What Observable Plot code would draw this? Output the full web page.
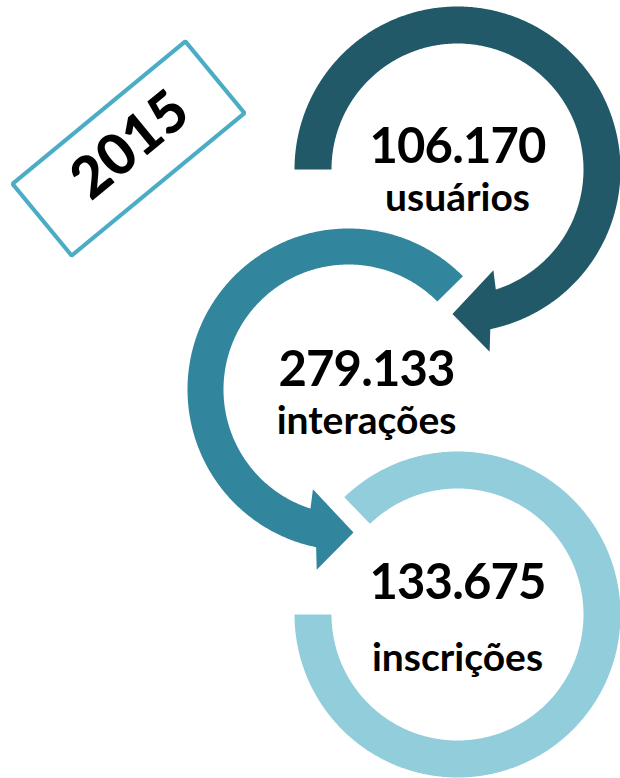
<!DOCTYPE html>
<html><head><meta charset="utf-8">
<script src="https://cdn.jsdelivr.net/npm/d3@7"></script>
<script src="https://cdn.jsdelivr.net/npm/@observablehq/plot@0.6"></script>
<style>html,body{margin:0;padding:0;background:#fff;overflow:hidden}</style>
</head><body><div id="chart"></div>
<script>
// ---- data ----
const years = ["2015"];
const metricValues = [106170, 279133, 133675];
const metricLabels = ["usuários", "interações", "inscrições"];
const ringColors = ["#215968", "#31859C", "#92CDDC"];
const boxColor = "#4BACC6";

// ---- layout (pixels) ----
const W = 620, H = 778;
const rings = [
  {cx: 457, cy: 169, ri: 126, ro: 163, start: 180,   innerEnd: 432.3, outerEnd: 438.4, head: true,  mirror: false, tx: 457, numY: 162, labY: 210},
  {cx: 348, cy: 389, ri: 125, ro: 161, start: 224.7, innerEnd: 432.3, outerEnd: 438.4, head: true,  mirror: true,  tx: 366, numY: 385, labY: 433},
  {cx: 457, cy: 614, ri: 126, ro: 163, start: 226,   innerEnd: 540,   outerEnd: 540,   head: false, mirror: false, tx: 457, numY: 598, labY: 670}
];
const box = {cx: 128, cy: 148, w: 224, h: 93, angle: -39.5, tx: 130, ty: 145};

const ptBR = d3.formatLocale({decimal: ",", thousands: ".", grouping: [3], currency: ["R$", ""]});
const fmt = ptBR.format(",d");

const rad = Math.PI / 180;
function pt(g, r, a) {
  return {x: g.cx + (g.mirror ? -1 : 1) * r * Math.cos(a * rad), y: g.cy + r * Math.sin(a * rad)};
}
function arc(g, r, a0, a1) {
  const n = Math.max(2, Math.ceil(Math.abs(a1 - a0) / 0.5));
  return d3.range(n + 1).map(i => pt(g, r, a0 + (a1 - a0) * i / n));
}
function ringShape(g) {
  let pts = arc(g, g.ro, g.start, g.outerEnd);
  if (g.head) {
    pts.push(pt(g, g.ro + 22, 440.0));
    pts.push(pt(g, (g.ri + g.ro) / 2, 452.0));
    pts.push(pt(g, g.ri - 19, 430.4));
  }
  pts = pts.concat(arc(g, g.ri, g.innerEnd, g.start));
  return pts;
}
function boxShape(b) {
  const t = b.angle * rad, c = Math.cos(t), s = Math.sin(t);
  return [[-1, -1], [1, -1], [1, 1], [-1, 1]].map(([u, v]) => {
    const x = u * b.w / 2, y = v * b.h / 2;
    return {x: b.cx + x * c - y * s, y: b.cy + x * s + y * c};
  });
}

const metrics = metricValues.map((v, i) => ({value: fmt(v), label: metricLabels[i], color: ringColors[i], ...rings[i]}));
const font = "Lato, 'Open Sans', sans-serif";

const marks = [
  ...metrics.map(m => Plot.line(ringShape(m), {x: "x", y: "y", fill: m.color, stroke: "none", curve: "linear-closed"})),
  Plot.line(boxShape(box), {x: "x", y: "y", stroke: boxColor, strokeWidth: 4, fill: "none", curve: "linear-closed", strokeLinejoin: "miter"}),
  Plot.text(years, {x: () => box.tx, y: () => box.ty, text: d => d, rotate: box.angle, fontSize: 57, fontWeight: 900, fontFamily: font, fill: "#000", textAnchor: "middle", lineAnchor: "middle"}),
  Plot.text(metrics, {x: "tx", y: "numY", text: "value", fontSize: 49, fontWeight: 700, fontFamily: font, fill: "#000", textAnchor: "middle", lineAnchor: "bottom"}),
  Plot.text(metrics, {x: "tx", y: "labY", text: "label", fontSize: 39, fontWeight: 700, fontFamily: font, fill: "#000", textAnchor: "middle", lineAnchor: "bottom"})
];

const svg = Plot.plot({
  width: W, height: H,
  margin: 0,
  x: {domain: [0, W], range: [0, W]},
  y: {domain: [0, H], range: [0, H]},
  axis: null,
  style: {background: "#fff", overflow: "hidden"},
  marks
});
// tighten the number glyphs slightly, as in the reference
d3.select(svg).selectAll("text").filter(function () { return /^\d+\.\d+$/.test(this.textContent); })
  .attr("letter-spacing", "-0.9px");
document.getElementById("chart").appendChild(svg);
</script>
</body></html>
